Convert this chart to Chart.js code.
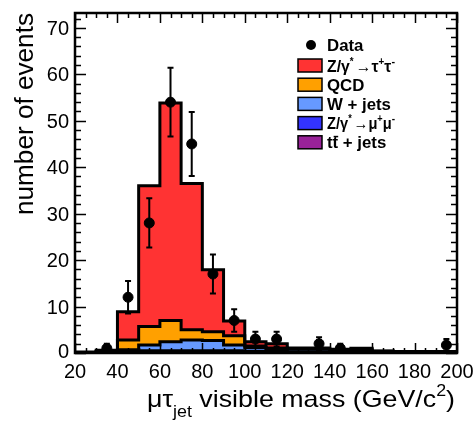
<!DOCTYPE html>
<html><head><meta charset="utf-8">
<script src="https://cdn.jsdelivr.net/npm/chart.js@4/dist/chart.umd.min.js"></script>
<style>html,body{margin:0;padding:0;background:#fff;}canvas{display:block;}</style>
</head><body>
<canvas id="c" width="475" height="424"></canvas>
<script>
// ---- data ----
const binEdges = [20,30,40,50,60,70,80,90,100,110,120,130,140,150,160,170,180,190,200];
const ttbar   = [0.0,0.0,0.1,0.2,0.2,0.2,0.2,0.2,0.1,0.1,0.1,0.1,0.1,0.1,0.05,0.05,0.05,0.05];
const zmumu   = [0.1,0.2,0.3,0.3,0.3,0.3,0.3,0.3,0.3,0.2,0.1,0.1,0.1,0.1,0.1,0.05,0.05,0.05];
const wjets   = [0.0,0.1,0.3,1.2,1.9,2.3,2.2,1.2,0.8,0.6,0.6,0.6,0.3,0.4,0.15,0.1,0.1,0.1];
const qcd     = [0.0,0.1,2.1,4.0,4.6,2.2,1.9,2.0,0.3,0.2,0.1,0.1,0.1,0.1,0.05,0.05,0.05,0.05];
const ztautau = [0.1,0.2,6.1,30.3,46.8,31.5,13.3,3.2,0.9,0.9,0.2,0.2,0.2,0.3,0.1,0.05,0.05,0.05];
const dataX   = [35,45,55,65,75,85,95,105,115,135,145,195];
const dataY   = [1,12,28,54,45,17,7,3,3,2,1,1.7];
const dataErr = [1,3.5,5.3,7.4,6.9,4.2,2.4,1.6,1.6,1.4,1,1.3];
const xTicks  = [20,40,60,80,100,120,140,160,180,200];
const yTicks  = [0,10,20,30,40,50,60,70];
const seriesNames  = ['tt + jets','Z/γ* → μ⁺μ⁻','W + jets','QCD','Z/γ* → τ⁺τ⁻'];
const seriesColors = ['#992299','#3333ff','#6699ff','#ffa000','#ff3333'];

// ---- build stacked step datasets ----
const comps = [ttbar, zmumu, wjets, qcd, ztautau];
const cum = [];
comps.forEach((c, k) => {
  cum.push(c.map((v, i) => v + (k ? cum[k-1][i] : 0)));
});
const mcDatasets = cum.map((arr, k) => {
  const pts = [{x: binEdges[0], y: arr[0]}];
  arr.forEach((v, i) => pts.push({x: binEdges[i+1], y: v}));
  return {
    type: 'line', label: seriesNames[k], data: pts,
    stepped: 'after', borderColor: '#000', borderWidth: 3,
    backgroundColor: seriesColors[k], fill: k === 0 ? 'origin' : '-1',
    pointRadius: 0, tension: 0
  };
});
const dataDataset = {
  type: 'scatter', label: 'Data',
  data: dataX.map((x, i) => ({x, y: dataY[i]})),
  pointRadius: 5, pointBackgroundColor: '#000', pointBorderColor: '#000',
  showLine: false
};

const FONT = "'Liberation Sans', Arial, Helvetica, sans-serif";

function drawRich(ctx, parts, x, y, scaleX, align) {
  let total = 0;
  parts.forEach(p => { ctx.font = (p.bold ? 'bold ' : '') + p.size + 'px ' + FONT; p.w = ctx.measureText(p.t).width; total += p.w; });
  let sx = scaleX;
  if (typeof scaleX === 'object') sx = scaleX.target / total;
  ctx.save();
  ctx.translate(x, y);
  ctx.scale(sx, 1);
  let cx = align === 'right' ? -total : 0;
  parts.forEach(p => {
    ctx.font = (p.bold ? 'bold ' : '') + p.size + 'px ' + FONT;
    ctx.fillText(p.t, cx, p.dy || 0);
    if (p.overline) {
      ctx.fillRect(cx + 1, (p.dy||0) - p.size*0.78, p.w - 1, 1.5);
    }
    cx += p.w;
  });
  ctx.restore();
}

const rootFrame = {
  id: 'rootFrame',
  afterDatasetsDraw(chart) {
    const {ctx, scales: {x, y}} = chart;
    ctx.save();
    ctx.strokeStyle = '#000'; ctx.lineWidth = 2;
    dataX.forEach((xv, i) => {
      const px = x.getPixelForValue(xv);
      const top = y.getPixelForValue(dataY[i] + dataErr[i]);
      const bot = y.getPixelForValue(Math.max(0, dataY[i] - dataErr[i]));
      ctx.beginPath();
      ctx.moveTo(px, top); ctx.lineTo(px, bot);
      ctx.moveTo(px-3, top); ctx.lineTo(px+3, top);
      ctx.moveTo(px-3, bot); ctx.lineTo(px+3, bot);
      ctx.stroke();
    });
    ctx.restore();
  },
  afterDraw(chart) {
    const {ctx, chartArea: a, scales: {x, y}} = chart;
    ctx.save();
    ctx.strokeStyle = '#000'; ctx.fillStyle = '#000';
    ctx.lineWidth = 1.5;
    ctx.beginPath();
    for (let v = x.min; v <= x.max + 1e-6; v += 5) {
      const px = Math.round(x.getPixelForValue(v)) + 0.5;
      const len = (v % 20 === 0) ? 10 : 5;
      ctx.moveTo(px, a.bottom); ctx.lineTo(px, a.bottom - len);
      ctx.moveTo(px, a.top); ctx.lineTo(px, a.top + len);
    }
    for (let v = 0; v <= y.max + 1e-6; v += 2) {
      const py = Math.round(y.getPixelForValue(v)) + 0.5;
      const len = (v % 10 === 0) ? 11 : 6;
      ctx.moveTo(a.left, py); ctx.lineTo(a.left + len, py);
      ctx.moveTo(a.right, py); ctx.lineTo(a.right - len, py);
    }
    ctx.stroke();
    ctx.lineWidth = 2.5;
    ctx.strokeRect(a.left, a.top, a.right - a.left, a.bottom - a.top);
    ctx.font = '20px ' + FONT;
    ctx.textAlign = 'center'; ctx.textBaseline = 'alphabetic';
    xTicks.forEach(v => ctx.fillText(String(v), x.getPixelForValue(v), a.bottom + 25));
    ctx.textAlign = 'right';
    yTicks.forEach(v => ctx.fillText(String(v), a.left - 6, y.getPixelForValue(v) + (v === 0 ? 5 : 7)));
    ctx.textAlign = 'left';
    drawRich(ctx, [
      {t: 'μτ', size: 24},
      {t: 'jet', size: 16, dy: 10},
      {t: ' visible mass (GeV/c', size: 24},
      {t: '2', size: 16, dy: -11},
      {t: ')', size: 24}
    ], 455, 407, {target: 308}, 'right');
    ctx.save();
    ctx.translate(33, 13);
    ctx.rotate(-Math.PI/2);
    drawRich(ctx, [{t: 'number of events', size: 25}], 0, 0, {target: 202}, 'right');
    ctx.restore();
    ctx.beginPath(); ctx.arc(311, 45, 5, 0, Math.PI*2); ctx.fill();
    drawRich(ctx, [{t: 'Data', size: 16, bold: true}], 327, 51, 1.05);
    const rows = [
      {c: seriesColors[4], w: {target: 68}, parts: [{t:'Z/γ',size:16,bold:true},{t:'*',size:10,bold:true,dy:-7},{t:' ',size:8},{t:'→',size:16},{t:'τ',size:16,bold:true},{t:'+',size:10,bold:true,dy:-7},{t:'τ',size:16,bold:true},{t:'-',size:11,bold:true,dy:-7}]},
      {c: seriesColors[3], w: 1.05, parts: [{t:'QCD',size:16,bold:true}]},
      {c: seriesColors[2], w: 1.05, parts: [{t:'W + jets',size:16,bold:true}]},
      {c: seriesColors[1], w: {target: 68}, parts: [{t:'Z/γ',size:16,bold:true},{t:'*',size:10,bold:true,dy:-7},{t:' ',size:8},{t:'→',size:16},{t:'μ',size:16,bold:true},{t:'+',size:10,bold:true,dy:-7},{t:'μ',size:16,bold:true},{t:'-',size:11,bold:true,dy:-7}]},
      {c: seriesColors[0], w: 1.05, parts: [{t:'t',size:16,bold:true},{t:'t',size:16,bold:true,overline:true},{t:' + jets',size:16,bold:true}]}
    ];
    rows.forEach((r, i) => {
      const top = 59 + i * 19.2;
      ctx.fillStyle = r.c;
      ctx.fillRect(298, top, 24, 13);
      ctx.lineWidth = 1.5; ctx.strokeStyle = '#000';
      ctx.strokeRect(298, top, 24, 13);
      ctx.fillStyle = '#000';
      drawRich(ctx, r.parts, 327, top + 12.5, r.w);
    });
    ctx.restore();
  }
};

new Chart(document.getElementById('c').getContext('2d'), {
  type: 'line',
  data: {datasets: [...mcDatasets, dataDataset]},
  options: {
    responsive: false, animation: false,
    layout: {padding: {left: 75, right: 18, top: 13, bottom: 71}},
    scales: {
      x: {type: 'linear', min: 20, max: 200, display: false},
      y: {type: 'linear', min: 0, max: 73.2, display: false}
    },
    plugins: {
      legend: {display: false}, tooltip: {enabled: false},
      filler: {drawTime: 'beforeDatasetsDraw'}
    }
  },
  plugins: [rootFrame]
});
</script>
</body></html>
